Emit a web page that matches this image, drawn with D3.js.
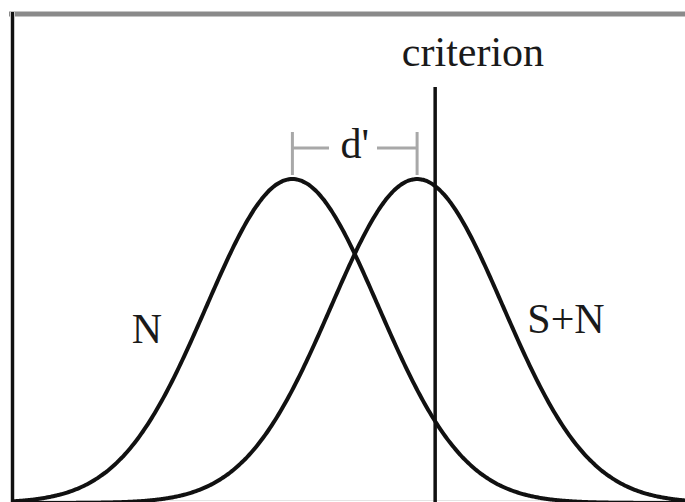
<!DOCTYPE html>
<html>
<head>
<meta charset="utf-8">
<script src="https://cdn.jsdelivr.net/npm/d3@7"></script>
<style>
    html, body { margin: 0; padding: 0; background: #fff; }
    svg { display: block; }
    .label { font-family: "Liberation Serif", "Times New Roman", serif; fill: #1a1a1a; }
</style>
</head>
<body>
<div id="chart"></div>
<script>

// distributions (in standard units, noise mean = 0)
let distLabels = ['N', 'S+N'];
let distMeans = [0, 1.45];
let distSd = [1, 1];
let criterionValue = 1.66;

// text labels
let criterionLabel = 'criterion';
let dprimeLabel = "d'";

let width = 685,
    height = 502;

let svg = d3.select('#chart').append('svg')
    .attr('width', width)
    .attr('height', height);

let x = d3.scaleLinear()
    .domain([-3.4, 4.6])
    .range([0, 688]);

let y = d3.scaleLinear()
    .domain([0, 1 / Math.sqrt(2 * Math.PI)])
    .range([503, 179]);

function density(v, m, s) {
    let z = (v - m) / s;
    return Math.exp(-z * z / 2) / (s * Math.sqrt(2 * Math.PI));
}

// frame: gray top, black left, faint bottom
svg.append('line')
    .attr('x1', 9).attr('x2', width)
    .attr('y1', 14).attr('y2', 14)
    .attr('stroke', '#8a8a8a')
    .attr('stroke-width', 5);

svg.append('line')
    .attr('x1', 12.5).attr('x2', 12.5)
    .attr('y1', 12).attr('y2', height)
    .attr('stroke', '#c8c8c8')
    .attr('stroke-width', 5);
svg.append('line')
    .attr('x1', 12.5).attr('x2', 12.5)
    .attr('y1', 12).attr('y2', height)
    .attr('stroke', '#111')
    .attr('stroke-width', 3);

svg.append('line')
    .attr('x1', 12).attr('x2', width)
    .attr('y1', 500.5).attr('y2', 500.5)
    .attr('stroke', '#e4e4e4')
    .attr('stroke-width', 1);

// curves
let line = d3.line()
    .x(function(d) { return x(d[0]); })
    .y(function(d) { return y(d[1]); })
    .curve(d3.curveBasis);

let xs = d3.range(x.invert(12), x.invert(width + 2), 0.02);

svg.append('g')
    .selectAll('.curve')
    .data(distMeans)
    .enter()
    .append('path')
    .classed('curve', true)
    .attr('d', function(m, i) {
        return line(xs.map(function(v) { return [v, density(v, m, distSd[i])]; }));
    })
    .attr('fill', 'none')
    .attr('stroke', '#111')
    .attr('stroke-width', 4);

// criterion line
svg.append('line')
    .attr('x1', x(criterionValue)).attr('x2', x(criterionValue))
    .attr('y1', 87).attr('y2', height)
    .attr('stroke', '#111')
    .attr('stroke-width', 3.5);

svg.append('text')
    .classed('label', true)
    .attr('x', 473)
    .attr('y', 66)
    .attr('text-anchor', 'middle')
    .style('font-size', '42px')
    .text(criterionLabel);

// d' bracket between the two means
let bracketY = 148;
let g = svg.append('g')
    .attr('stroke', '#a8a8a8')
    .attr('stroke-width', 3);

distMeans.forEach(function(m) {
    g.append('line')
        .attr('x1', x(m)).attr('x2', x(m))
        .attr('y1', 132).attr('y2', 175);
});
g.append('line')
    .attr('x1', x(distMeans[0])).attr('x2', 329)
    .attr('y1', bracketY).attr('y2', bracketY);
g.append('line')
    .attr('x1', 377).attr('x2', x(distMeans[1]))
    .attr('y1', bracketY).attr('y2', bracketY);

svg.append('text')
    .classed('label', true)
    .attr('x', (x(distMeans[0]) + x(distMeans[1])) / 2)
    .attr('y', 158)
    .attr('text-anchor', 'middle')
    .style('font-size', '42px')
    .text(dprimeLabel);

// distribution labels
let labelPos = [[147, 343], [566, 333]];
svg.selectAll('.dist-label')
    .data(distLabels)
    .enter()
    .append('text')
    .classed('label', true)
    .classed('dist-label', true)
    .attr('x', function(d, i) { return labelPos[i][0]; })
    .attr('y', function(d, i) { return labelPos[i][1]; })
    .attr('text-anchor', 'middle')
    .style('font-size', '42px')
    .text(function(d) { return d; });

</script>
</body>
</html>
